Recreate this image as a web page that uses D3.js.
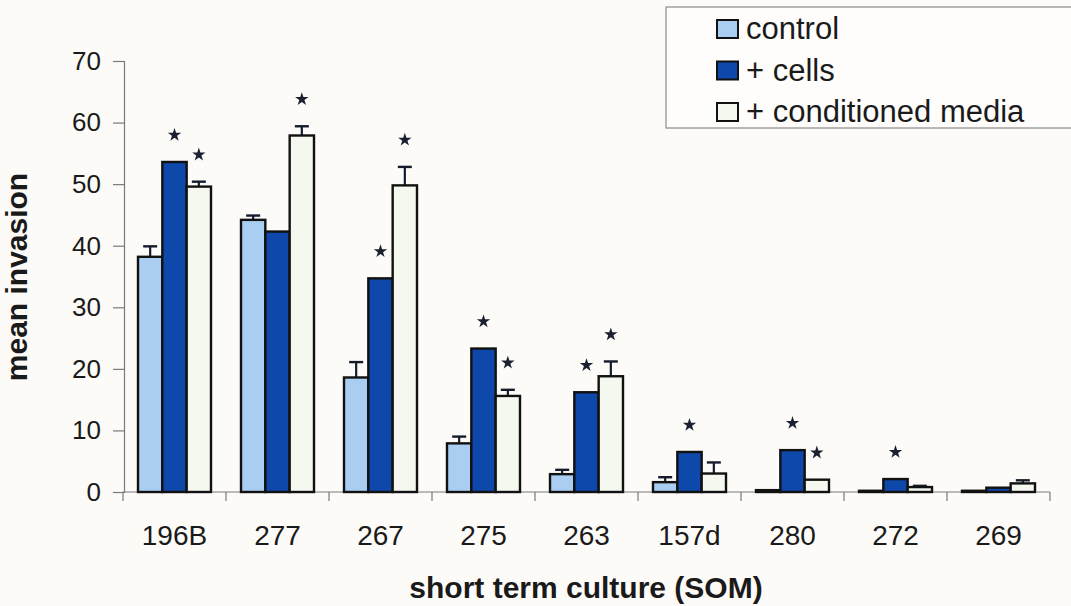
<!DOCTYPE html>
<html>
<head>
<meta charset="utf-8">
<script src="https://cdn.jsdelivr.net/npm/d3@7"></script>
<style>
  body { margin: 0; background: #fdfbf8; }
  svg { display: block; font-family: "Liberation Sans", Arial, sans-serif; }
</style>
</head>
<body>
<svg id="chart" width="1071" height="606"></svg>
<script>
// data
var categories = ['196B', '277', '267', '275', '263', '157d', '280', '272', '269'];
var seriesNames = ['control', '+ cells', '+ conditioned media'];

var control    = [38.2, 44.2, 18.6, 7.9, 2.9, 1.6, 0.3, 0.2, 0.2];
var controlErr = [1.7, 0.7, 2.5, 1.1, 0.7, 0.8, 0, 0, 0];
var cells      = [53.6, 42.3, 34.7, 23.3, 16.2, 6.5, 6.8, 2.1, 0.7];
var cellsErr   = [0, 0, 0, 0, 0, 0, 0, 0, 0];
var media      = [49.6, 57.9, 49.8, 15.6, 18.8, 3.0, 2.0, 0.8, 1.4];
var mediaErr   = [0.8, 1.5, 3.0, 1.0, 2.4, 1.8, 0, 0.2, 0.5];

var controlStar = [0, 0, 0, 0, 0, 0, 0, 0, 0];
var cellsStar   = [1, 0, 1, 1, 1, 1, 1, 1, 0];
var mediaStar   = [1, 1, 1, 1, 1, 0, 1, 0, 0];

var yTicks = [0, 10, 20, 30, 40, 50, 60, 70];

var colors = ['#a9cef2', '#0e48ab', '#f4f8ee'];

var values = [control, cells, media];
var errs = [controlErr, cellsErr, mediaErr];
var stars = [controlStar, cellsStar, mediaStar];

var svg = d3.select('#chart');

var x0 = d3.scaleBand()
  .domain(categories)
  .range([123, 1050]);

var x1 = d3.scaleBand()
  .domain(d3.range(3))
  .range([15, x0.bandwidth() - 15]);

var y = d3.scaleLinear()
  .domain([0, 70])
  .range([492, 61]);

// y axis
var yAxis = svg.append('g')
  .attr('transform', 'translate(124,0)')
  .call(d3.axisLeft(y).tickValues(yTicks).tickSize(11).tickPadding(12));
yAxis.select('.domain').attr('stroke', '#7a7a7a').attr('stroke-width', 1.2);
yAxis.selectAll('.tick line').attr('stroke', '#7a7a7a').attr('stroke-width', 1.2);
yAxis.selectAll('.tick text')
  .attr('fill', '#1a1a1a')
  .style('font-size', '26px')
  .style('font-family', '"Liberation Sans", Arial, sans-serif');

// x axis: ticks sit between categories
var xAxis = svg.append('g')
  .attr('transform', 'translate(0,' + y(0) + ')');
xAxis.append('line')
  .attr('x1', x0.range()[0]).attr('x2', x0.range()[1])
  .attr('stroke', '#7a7a7a').attr('stroke-width', 1.2);
xAxis.selectAll('.xt')
  .data(categories.concat(['end']))
  .enter().append('line')
  .attr('class', 'xt')
  .attr('x1', function(d, i) { return x0.range()[0] + i * x0.bandwidth(); })
  .attr('x2', function(d, i) { return x0.range()[0] + i * x0.bandwidth(); })
  .attr('y1', 0).attr('y2', 9)
  .attr('stroke', '#7a7a7a').attr('stroke-width', 1.2);
xAxis.selectAll('.xl')
  .data(categories)
  .enter().append('text')
  .attr('class', 'xl')
  .attr('x', function(d) { return x0(d) + x0.bandwidth() / 2; })
  .attr('y', 53)
  .attr('text-anchor', 'middle')
  .attr('fill', '#1a1a1a')
  .style('font-size', '28px')
  .text(function(d) { return d; });

// bars
var groups = svg.selectAll('.grp')
  .data(categories)
  .enter().append('g')
  .attr('class', 'grp')
  .attr('transform', function(d) { return 'translate(' + x0(d) + ',0)'; });

groups.each(function(cat, ci) {
  var g = d3.select(this);
  for (var s = 0; s < 3; s++) {
    var v = values[s][ci];
    var e = errs[s][ci];
    var bx = x1(s);
    var bw = x1.bandwidth();

    if (e > 0) {
      g.append('line')
        .attr('x1', bx + bw / 2).attr('x2', bx + bw / 2)
        .attr('y1', y(v)).attr('y2', y(v + e))
        .attr('stroke', '#141c2c').attr('stroke-width', 2.2);
      g.append('line')
        .attr('x1', bx + bw / 2 - 7).attr('x2', bx + bw / 2 + 7)
        .attr('y1', y(v + e)).attr('y2', y(v + e))
        .attr('stroke', '#141c2c').attr('stroke-width', 2.4);
    }

    g.append('rect')
      .attr('x', bx)
      .attr('y', y(v))
      .attr('width', bw)
      .attr('height', y(0) - y(v))
      .attr('fill', colors[s])
      .attr('stroke', '#111')
      .attr('stroke-width', 2.4);

    if (stars[s][ci]) {
      g.append('path')
        .attr('d', d3.symbol(d3.symbolStar).size(56)())
        .attr('transform', 'translate(' + (bx + bw / 2) + ',' + (y(v + e) - 27) + ')')
        .attr('fill', '#1a2030');
    }
  }
});

// axis titles
svg.append('text')
  .attr('x', 586)
  .attr('y', 598)
  .attr('text-anchor', 'middle')
  .attr('fill', '#1a1a1a')
  .style('font-size', '30px')
  .style('font-weight', 'bold')
  .text('short term culture (SOM)');

svg.append('text')
  .attr('transform', 'translate(27,277) rotate(-90)')
  .attr('text-anchor', 'middle')
  .attr('fill', '#1a1a1a')
  .style('font-size', '30px')
  .style('font-weight', 'bold')
  .text('mean invasion');

// legend
var legend = svg.append('g');
legend.append('rect')
  .attr('x', 666).attr('y', 7)
  .attr('width', 420).attr('height', 121)
  .attr('fill', '#fefdfb')
  .attr('stroke', '#8a8a8a').attr('stroke-width', 1.2);

var rows = legend.selectAll('.lg')
  .data(seriesNames)
  .enter().append('g')
  .attr('class', 'lg')
  .attr('transform', function(d, i) { return 'translate(717,' + (29 + i * 41.5) + ')'; });

rows.append('rect')
  .attr('x', 0).attr('y', -9)
  .attr('width', 21).attr('height', 18)
  .attr('fill', function(d, i) { return colors[i]; })
  .attr('stroke', '#111').attr('stroke-width', 2);

rows.append('text')
  .attr('x', 29)
  .attr('y', 10)
  .attr('fill', '#1a1a1a')
  .style('font-size', '31px')
  .text(function(d) { return d; });
</script>
</body>
</html>
